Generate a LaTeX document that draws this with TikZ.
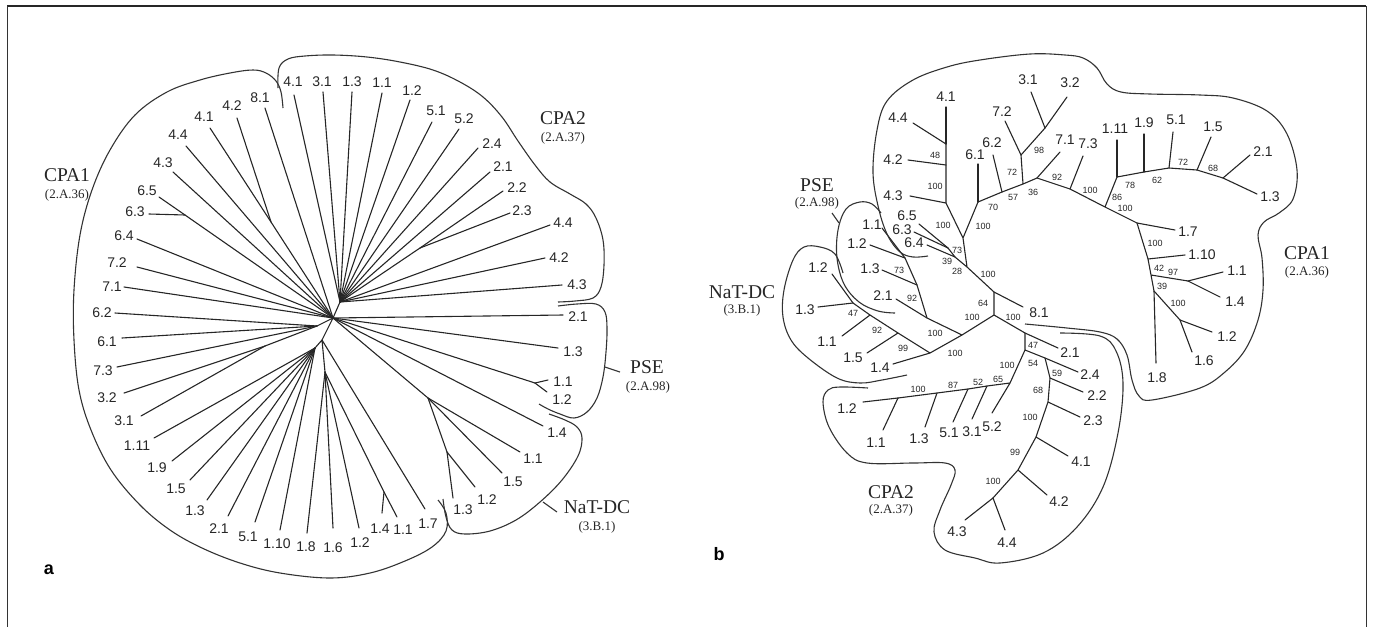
\documentclass[tikz,border=0pt]{standalone}
\usepackage{fontspec}
\setmainfont{Liberation Serif}
\setsansfont{Liberation Sans}
\begin{document}
\begin{tikzpicture}[x=1pt,y=-1pt,
  br/.style={line width=1.1pt, draw=black!85, line cap=round, line join=round},
  hull/.style={line width=1.1pt, draw=black!80},
  lf/.style={font=\sffamily\fontsize{14}{14}\selectfont, inner sep=0pt, text=black!85},
  bs/.style={font=\sffamily\fontsize{9}{9}\selectfont, inner sep=0pt, text=black!85},
  clade/.style={font=\rmfamily\fontsize{19.5}{20}\selectfont, inner sep=0pt, text=black!85},
  tc/.style={font=\rmfamily\fontsize{13}{13}\selectfont, inner sep=0pt, text=black!85},
  panel/.style={font=\sffamily\bfseries\fontsize{18}{18}\selectfont, inner sep=0pt}]
\useasboundingbox (0,0) rectangle (1373,627);
% frame
\coordinate (fTL) at (7,6); \coordinate (fTR) at (1366,6);
\coordinate (fBL) at (7,627); \coordinate (fBR) at (1366,627);
\draw[line width=1.6pt, black!85] (fTL) -- (fTR);
\draw[line width=1pt, black!80] (fTL) -- (fBL) (fTR) -- (fBR);

% ================= TREE A =================
\coordinate (aR) at (333,318);
\coordinate (aC2) at (340,302);
\coordinate (aH23) at (420,248);
\coordinate (aH42) at (271,222);
\coordinate (aH63) at (185,215);
\coordinate (aL1) at (317,326);
\coordinate (aH31) at (265,346);
\coordinate (aM) at (322,340);
\coordinate (aL2) at (315,348);
\coordinate (aL3) at (325,372);
\coordinate (aJ14) at (384,492);
\coordinate (aP) at (535,383);
\coordinate (aNh) at (428,398);
\coordinate (aNs) at (447,452);
\draw[br] (aR)--(aC2) (aR)--(aL1) (aR)--(aM) (aM)--(aL2) (aM)--(aL3)
  (aR)--(aP) (aR)--(aNh) (aNh)--(aNs) (aC2)--(aH23) (aR)--(aH42)
  (aR)--(aH63) (aL1)--(aH31) (aL3)--(aJ14);
\foreach \nm/\ex/\ey/\lx/\ly/\tx/\pn in {
  a81/265/108/260/98/8.1/aR, a42/237/118/232/106/4.2/aH42, a41/210/128/204/117/4.1/aH42,
  a44/186/146/178/135/4.4/aR, a43/173/172/163/163/4.3/aR, a65/159/197/147/191/6.5/aH63,
  a63/149/214/135/212/6.3/aH63, a64/137/239/124/236/6.4/aR, a72/137/267/117/263/7.2/aR,
  a71/124/287/112/287/7.1/aR, a62/115/313/102/313/6.2/aL1, a61/122/338/107/342/6.1/aL1,
  a73/117/367/103/371/7.3/aL1, a32/124/393/107/398/3.2/aH31, a31/141/416/124/421/3.1/aH31,
  a111/154/438/137/446/1.11/aL2, a19/172/461/157/468/1.9/aL2, a15/190/480/176/489/1.5/aL2,
  a13/207/500/195/511/1.3/aL2, a21/228/516/219/529/2.1/aL2, a51/255/522/248/537/5.1/aL2,
  a110/280/530/277/544/1.10/aL2, a18/307/533/306/547/1.8/aL3, a16/333/528/333/548/1.6/aL3,
  a12/359/528/360/543/1.2/aL3, a11/397/517/403/530/1.1/aJ14, a14/382/513/380/529/1.4/aJ14,
  a17/425/509/428/524/1.7/aM,
  c41/294/95/293/82/4.1/aC2, c31/323/92/322/82/3.1/aC2, c13/352/92/352/82/1.3/aC2,
  c11/382/93/382/83/1.1/aC2, c12/410/100/412/91/1.2/aC2, c51/432/122/436/111/5.1/aC2,
  c52/459/129/464/119/5.2/aC2, c24/478/148/492/144/2.4/aC2, c21/490/172/503/167/2.1/aC2,
  c22/503/191/517/188/2.2/aH23, c23/510/213/522/211/2.3/aH23, c44/550/225/563/223/4.4/aC2,
  c42/545/258/559/258/4.2/aC2, c43/562/285/577/285/4.3/aC2,
  p21/563/315/578/317/2.1/aR, p13/558/348/573/352/1.3/aR, p11/548/380/563/382/1.1/aP,
  p12/547/392/562/400/1.2/aP,
  n14/543/426/557/433/1.4/aR, n11/520/452/533/459/1.1/aNh, n15/502/473/513/482/1.5/aNh,
  n12/475/487/487/500/1.2/aNs, n13/453/498/463/510/1.3/aNs}{
  \coordinate (e\nm) at (\ex,\ey);
  \node[lf] (l\nm) at (\lx,\ly) {\tx};
  \draw[br] (\pn) -- (e\nm);
}
% hulls tree a
\draw[hull] plot[smooth, tension=0.6] coordinates {(283,108) (281,92) (276,81) (266,73) (253,70)
  (230,73) (200,80) (167,92) (135,115) (110,150) (92,190) (80,235) (74,290) (74,340) (79,390)
  (91,430) (111,470) (140,505) (170,530) (202,548) (240,563) (280,573) (330,578) (370,573)
  (405,561) (432,547) (446,531) (446,513) (438,500)};
\draw[hull] plot[smooth, tension=0.6] coordinates {(278,88) (279,68) (288,59) (305,56) (333,55)
  (367,57) (400,62) (433,70) (460,82) (483,97) (502,117) (518,141) (535,165) (550,182)
  (570,194) (586,204) (596,218) (603,240) (604,265) (601,287) (593,298) (575,301) (558,302)};
\draw[hull] plot[smooth, tension=0.6] coordinates {(558,306) (577,304) (596,304) (605,312)
  (607,328) (606,352) (603,377) (597,398) (587,412) (574,418) (560,414) (548,409) (539,404)};
\draw[hull] plot[smooth, tension=0.6] coordinates {(549,414) (565,420) (577,427) (582,438)
  (578,456) (562,480) (540,502) (516,520) (490,531) (465,534) (452,530) (446,517) (443,499)};
\coordinate (tPa1) at (605,367); \coordinate (tPa2) at (620,372);
\coordinate (tNa1) at (543,502); \coordinate (tNa2) at (557,512);
\draw[hull] (tPa1) -- (tPa2) (tNa1) -- (tNa2);
\node[clade] (aCPA1) at (67,175) {CPA1};
\node[tc] (aCPA1t) at (67,195) {(2.A.36)};
\node[clade] (aCPA2) at (563,118) {CPA2};
\node[tc] (aCPA2t) at (563,138) {(2.A.37)};
\node[clade] (aPSE) at (647,367) {PSE};
\node[tc] (aPSEt) at (648,387) {(2.A.98)};
\node[clade] (aNAT) at (597,507) {NaT-DC};
\node[tc] (aNATt) at (597,527) {(3.B.1)};
\node[panel] (pa) at (49,570) {a};

% ================= TREE B =================
\coordinate (bA) at (994,292);  \coordinate (bB) at (994,315);
\coordinate (bC) at (967,267);  \coordinate (bX) at (962,335);
\coordinate (bP) at (927,318);  \coordinate (bN) at (930,353);
\coordinate (bQ) at (1025,333); \coordinate (bD) at (963,238);
\coordinate (bE) at (946,203);  \coordinate (bE2) at (946,165);
\coordinate (bE3) at (946,144); \coordinate (bF) at (978,202);
\coordinate (bG) at (1002,192); \coordinate (bH) at (1023,184);
\coordinate (bI) at (1021,155); \coordinate (bJ) at (1045,128);
\coordinate (bK) at (1037,178); \coordinate (bL) at (1070,189);
\coordinate (bM) at (1105,207); \coordinate (bT1) at (1117,177);
\coordinate (bT2) at (1144,172); \coordinate (bT3) at (1169,168);
\coordinate (bT4) at (1197,170); \coordinate (bT5) at (1223,178);
\coordinate (bO) at (1137,223); \coordinate (bU1) at (1148,259);
\coordinate (bU2) at (1151,275); \coordinate (bU3) at (1188,281);
\coordinate (bU4) at (1154,291); \coordinate (bU5) at (1180,320);
\coordinate (bS1) at (948,248); \coordinate (bS2) at (955,257);
\coordinate (bP2) at (905,258); \coordinate (bP3) at (917,285);
\coordinate (bN1) at (898,333); \coordinate (bN2) at (870,315); \coordinate (bN3) at (853,303);
\coordinate (bQ1) at (1025,350); \coordinate (bQ2) at (1045,358); \coordinate (bQ3) at (1050,378);
\coordinate (bQ4) at (1048,402); \coordinate (bQ5) at (1036,437); \coordinate (bQ6) at (1018,470);
\coordinate (bQ7) at (993,498);
\coordinate (bR1) at (1010,383); \coordinate (bR2) at (987,386); \coordinate (bR3) at (968,389);
\coordinate (bR4) at (937,393); \coordinate (bR5) at (898,398);
\draw[br] (bC)--(bA)--(bB) (bB)--(bX) (bB)--(bQ) (bX)--(bP) (bX)--(bN)
  (bC)--(bD)--(bE)--(bE2)--(bE3)
  (bD)--(bF)--(bG)--(bH)--(bK)--(bL)--(bM)--(bO)--(bU1)--(bU2)--(bU4)
  (bH)--(bI)--(bJ) (bM)--(bT1)--(bT2)--(bT3)--(bT4)--(bT5)
  (bU2)--(bU3) (bU4)--(bU5) (bC)--(bS2)--(bS1)
  (bP)--(bP3)--(bP2) (bN)--(bN1)--(bN2)--(bN3)
  (bQ)--(bQ1)--(bQ2)--(bQ3)--(bQ4)--(bQ5)--(bQ6)--(bQ7)
  (bQ1)--(bR1)--(bR2)--(bR3)--(bR4)--(bR5);
\foreach \nm/\ex/\ey/\lx/\ly/\tx/\pn in {
  d41/946/107/946/97/4.1/bE3, d44/913/123/898/118/4.4/bE3, d42/908/160/893/160/4.2/bE2,
  d43/910/196/893/196/4.3/bE, d61/978/164/975/155/6.1/bF, d62/993/155/992/143/6.2/bG,
  d72/1005/121/1002/112/7.2/bI, d31/1031/92/1028/80/3.1/bJ, d32/1067/97/1070/83/3.2/bJ,
  d71/1060/152/1065/140/7.1/bK, d73/1083/156/1088/144/7.3/bL, d111/1117/140/1115/129/1.11/bT1,
  d19/1144/134/1144/123/1.9/bT2, d51/1173/132/1176/120/5.1/bT3, d15/1211/137/1213/127/1.5/bT4,
  d21/1250/155/1263/152/2.1/bT5, d13/1257/194/1270/197/1.3/bT5, d17/1175/230/1188/232/1.7/bO,
  d110/1185/255/1202/255/1.10/bU1, d11/1223/272/1237/271/1.1/bU3, d14/1220/297/1235/302/1.4/bU3,
  d18/1156/363/1157/378/1.8/bU4, d12/1212/332/1227/337/1.2/bU5, d16/1192/352/1204/361/1.6/bU5,
  d81/1023/307/1039/313/8.1/bA, d65/919/224/907/216/6.5/bS1, d63/914/232/902/230/6.3/bS1,
  d64/927/245/914/243/6.4/bS2,
  e11/882/228/872/225/1.1/bP2, e12/870/245/857/244/1.2/bP2, e13/882/270/870/269/1.3/bP3,
  e21/896/299/883/296/2.1/bP,
  f12/832/274/818/268/1.2/bN3, f13/818/307/805/310/1.3/bN3, f11/842/336/827/342/1.1/bN2,
  f15/867/353/853/358/1.5/bN1, f14/893/364/880/368/1.4/bN,
  g21/1058/348/1070/353/2.1/bQ, g24/1078/372/1090/375/2.4/bQ2, g22/1083/392/1097/396/2.2/bQ3,
  g23/1080/417/1093/421/2.3/bQ4, g41/1068/456/1081/462/4.1/bQ5, g42/1047/495/1059/502/4.2/bQ6,
  g43/965/520/957/532/4.3/bQ7, g44/1005/530/1007/543/4.4/bQ7, g52/992/413/992/427/5.2/bR1,
  g31/972/419/972/432/3.1/bR2, g51/953/422/949/433/5.1/bR3, g13/925/427/919/439/1.3/bR4,
  g11/883/430/876/443/1.1/bR5, g12/863/402/847/409/1.2/bR5}{
  \coordinate (e\nm) at (\ex,\ey);
  \node[lf] (l\nm) at (\lx,\ly) {\tx};
  \draw[br] (\pn) -- (e\nm);
}
% bootstrap values
\foreach \i/\x/\y/\tx in {1/935/155/48, 2/935/186/100, 3/943/225/100, 4/983/226/100, 5/993/207/70,
  6/1013/197/57, 7/1033/192/36, 8/1012/172/72, 9/1039/150/98, 10/1057/177/92, 11/1090/190/100,
  12/1125/208/100, 13/1117/197/86, 14/1130/185/78, 15/1157/180/62, 16/1183/162/72, 17/1213/168/68,
  18/1155/243/100, 19/1159/268/42, 20/1173/272/97, 21/1162/286/39, 22/1178/303/100,
  23/957/250/73, 24/947/261/39, 25/957/271/28, 26/988/274/100, 27/983/303/64, 28/972/317/100,
  29/1013/317/100, 30/935/333/100, 31/955/353/100, 32/899/270/73, 33/912/298/92,
  34/853/313/47, 35/877/330/92, 36/903/348/99,
  37/1033/345/47, 38/1033/363/54, 39/1057/373/59, 40/1038/390/68, 41/1030/417/100,
  42/1015/452/99, 43/993/481/100, 44/1007/365/100, 45/998/379/65, 46/978/382/52,
  47/953/385/87, 48/918/389/100}{
  \node[bs] (bs\i) at (\x,\y) {\tx};
}
% hulls tree b
\draw[hull] plot[smooth, tension=0.6] coordinates {(928,256) (913,257) (900,252) (888,236)
  (879,210) (873,173) (877,130) (887,101) (913,80) (947,67) (980,60) (1030,54) (1065,55)
  (1083,58) (1097,68) (1107,84) (1121,92) (1150,94) (1200,95) (1233,98) (1267,111) (1287,134)
  (1297,170) (1293,199) (1279,213) (1264,222) (1258,235) (1262,258) (1263,290) (1258,320)
  (1245,350) (1225,372) (1200,388) (1152,400) (1139,396) (1132,380) (1127,355) (1117,339)
  (1100,332) (1067,328) (1025,324)};
\draw[hull] plot[smooth, tension=0.6] coordinates {(1060,333) (1100,336) (1116,351) (1123,383)
  (1118,433) (1103,487) (1077,527) (1043,553) (1000,563) (975,558) (945,550) (934,532)
  (940,510) (951,485) (955,470) (945,463) (913,463) (867,463) (847,453) (829,427) (823,402)
  (828,390) (840,387) (868,388)};
\draw[hull] plot[smooth, tension=0.6] coordinates {(881,213) (872,204) (860,202) (846,209)
  (838,230) (837,258) (844,284) (859,302) (878,311) (895,313)};
\draw[hull] plot[smooth, tension=0.6] coordinates {(843,273) (835,254) (820,247) (804,247)
  (793,260) (784,290) (783,317) (791,340) (808,358) (837,378) (860,383) (882,380) (907,375)};
\coordinate (tPb1) at (832,213); \coordinate (tPb2) at (839,223);
\draw[hull] (tPb1) -- (tPb2);
\node[clade] (bPSE) at (817,185) {PSE};
\node[tc] (bPSEt) at (817,203) {(2.A.98)};
\node[clade] (bNAT) at (742,292) {NaT-DC};
\node[tc] (bNATt) at (742,310) {(3.B.1)};
\node[clade] (bCPA1) at (1307,253) {CPA1};
\node[tc] (bCPA1t) at (1307,272) {(2.A.36)};
\node[clade] (bCPA2) at (891,492) {CPA2};
\node[tc] (bCPA2t) at (891,510) {(2.A.37)};
\node[panel] (pb) at (719,554) {b};
\end{tikzpicture}
\end{document}
